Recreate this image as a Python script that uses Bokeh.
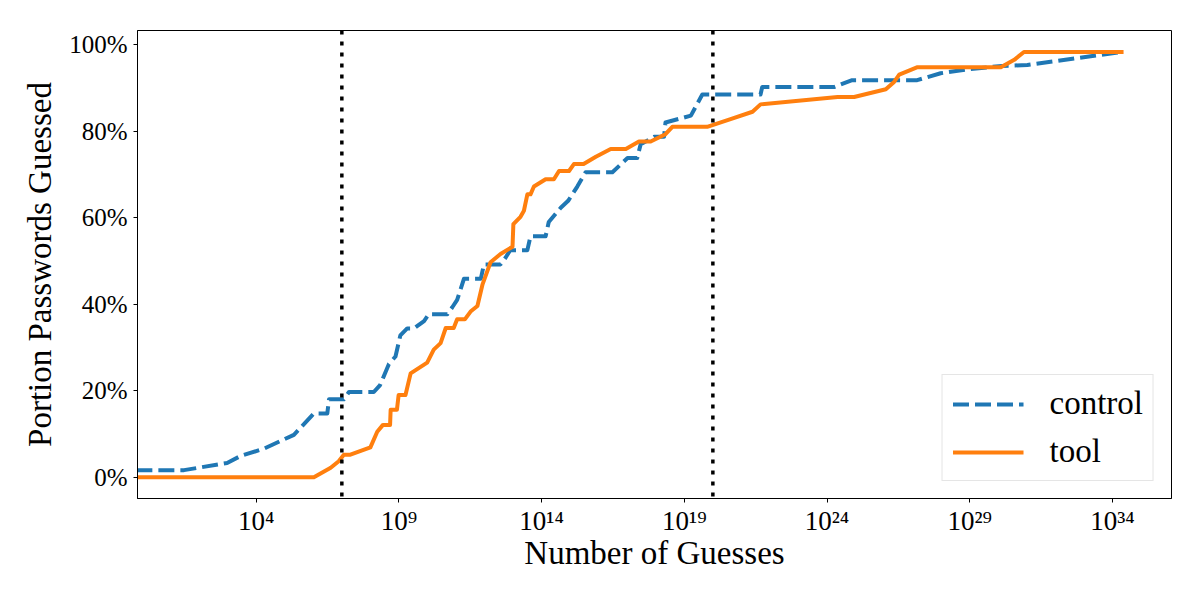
from bokeh.plotting import figure
from bokeh.models import (Range1d, FixedTicker, CustomJSTickFormatter,
                          PrintfTickFormatter, Span, Legend, LegendItem)
from bokeh.embed import file_html
from bokeh.resources import INLINE

# Guess counts are kept as base-10 exponents; portions are in percent.
control_exp = [-0.2, 1.47, 2.98, 3.45, 4.27, 5.32, 6.02, 6.49, 6.55, 7.07,
               7.25, 8.12, 8.34, 8.65, 8.88, 9.05, 9.29, 9.53, 9.88, 10.05,
               10.70, 10.87, 11.04, 11.28, 11.87, 11.98, 12.56, 12.74, 12.90,
               13.50, 13.61, 14.14, 14.25, 14.67, 14.93, 15.25, 15.54, 16.48,
               17.01, 17.35, 17.47, 17.94, 18.29, 18.34, 19.23, 19.63, 21.67,
               21.73, 24.25, 24.88, 27.16, 27.98, 28.94, 30.13, 31.02, 34.39]
control_pct = [1.64, 1.64, 3.3, 4.9, 6.6, 9.8, 14.75, 14.75, 18.0, 18.0,
               19.7, 19.7, 21.3, 26.2, 27.9, 32.8, 34.4, 34.4, 36.1, 37.7,
               37.7, 39.3, 41.0, 45.9, 45.9, 49.2, 49.2, 50.8, 52.5,
               52.5, 55.7, 55.7, 59.0, 62.3, 63.9, 67.2, 70.5, 70.5,
               73.8, 73.8, 77.0, 78.7, 78.7, 82.0, 83.6, 88.5, 88.5,
               90.2, 90.2, 91.8, 91.8, 93.4, 94.3, 95.1, 95.3, 98.36]

tool_exp = [-0.2, 6.02, 6.61, 6.89, 7.07, 7.30, 8.00, 8.24, 8.44, 8.69, 8.71,
            8.93, 8.99, 9.23, 9.41, 9.99, 10.22, 10.46, 10.64, 10.92, 11.04,
            11.31, 11.51, 11.75, 11.93, 12.21, 12.56, 12.98, 13.01, 13.26,
            13.38, 13.50, 13.61, 13.73, 14.14, 14.43, 14.61, 14.96, 15.13,
            15.47, 15.90, 16.42, 16.95, 17.41, 17.82, 18.34, 18.58, 19.80,
            20.62, 21.39, 21.67, 24.37, 24.95, 26.06, 26.35, 26.53, 27.17,
            30.09, 30.56, 30.90, 34.39]
tool_pct = [0.0, 0.0, 2.2, 3.7, 5.2, 5.2, 6.9, 10.5, 12.1, 12.1, 15.6,
            15.6, 19.0, 19.0, 24.0, 26.5, 29.5, 31.0, 34.5, 34.5, 36.5,
            36.5, 38.3, 39.6, 44.6, 49.7, 51.6, 53.3, 58.5, 60.2,
            61.6, 65.4, 65.4, 67.2, 68.9, 68.9, 70.8, 70.8, 72.4,
            72.4, 74.1, 75.9, 75.9, 77.6, 77.6, 79.3, 81.0, 81.0,
            82.8, 84.5, 86.2, 87.9, 87.9, 89.7, 91.4, 93.1, 94.8,
            94.8, 96.5, 98.3, 98.3]

# Reference guess counts marked with vertical lines
marker_exp = [7, 20]

x_tick_exp = [4, 9, 14, 19, 24, 29, 34]
y_ticks = [0, 20, 40, 60, 80, 100]

FONT = "Liberation Serif"
BLUE = "#1f77b4"
ORANGE = "#ff7f0e"

p = figure(width=1200, height=600, x_axis_type="log",
           x_range=Range1d(10 ** -0.16, 10 ** 36.07),
           y_range=Range1d(-4.92, 103.28),
           output_backend="svg", toolbar_location=None,
           min_border_left=137, min_border_right=29,
           min_border_top=30, min_border_bottom=102)

p.background_fill_color = "white"
p.border_fill_color = "white"
p.outline_line_color = "black"
p.outline_line_width = 1
p.grid.visible = False

r_control = p.line([10 ** e for e in control_exp], control_pct,
                   line_color=BLUE, line_width=4, line_dash="16 6",
                   line_join="round")
r_tool = p.line([10 ** e for e in tool_exp], tool_pct,
                line_color=ORANGE, line_width=4, line_join="round")

for e in marker_exp:
    p.add_layout(Span(location=10 ** e, dimension="height",
                      line_color="black", line_width=3.5,
                      line_dash="4 7", line_cap="butt"))

# x axis: powers of ten with superscript exponents
p.xaxis.ticker = FixedTicker(ticks=[10 ** e for e in x_tick_exp], minor_ticks=[])
p.xaxis.formatter = CustomJSTickFormatter(code="""
    const sup = {'0':'\u2070','1':'\u00b9','2':'\u00b2','3':'\u00b3','4':'\u2074',
                 '5':'\u2075','6':'\u2076','7':'\u2077','8':'\u2078','9':'\u2079','-':'\u207b'};
    const e = Math.round(Math.log10(tick));
    return '10' + String(e).split('').map(c => sup[c]).join('');
""")
p.yaxis.ticker = FixedTicker(ticks=y_ticks, minor_ticks=[])
p.yaxis.formatter = PrintfTickFormatter(format="%d%%")

p.xaxis.axis_label = "Number of Guesses"
p.yaxis.axis_label = "Portion Passwords Guessed"

for ax in (p.xaxis, p.yaxis):
    ax.axis_label_text_font = FONT
    ax.axis_label_text_font_size = "33px"
    ax.axis_label_text_font_style = "normal"
    ax.axis_label_text_color = "black"
    ax.major_label_text_font = FONT
    ax.major_label_text_font_size = "25px"
    ax.major_label_text_color = "black"
    ax.axis_line_color = "black"
    ax.major_tick_line_color = "black"
    ax.major_tick_in = 0
    ax.major_tick_out = 4
    ax.minor_tick_line_color = None
    ax.major_label_standoff = 6
    ax.axis_label_standoff = 8

p.xaxis.major_label_text_font_size = "27px"
p.xaxis.major_label_standoff = 3
p.xaxis.axis_label_standoff = -4

legend = Legend(items=[LegendItem(label="control", renderers=[r_control]),
                       LegendItem(label="tool", renderers=[r_tool])],
                location="bottom_right", margin=17,
                label_text_font=FONT, label_text_font_size="33px",
                label_text_color="black",
                glyph_width=71, glyph_height=36, label_height=36,
                label_standoff=26, spacing=11, padding=10,
                border_line_color="#cccccc", border_line_width=1,
                background_fill_color="white", background_fill_alpha=0.8)
p.add_layout(legend)

open("out.html", "w").write(file_html(p, INLINE))
